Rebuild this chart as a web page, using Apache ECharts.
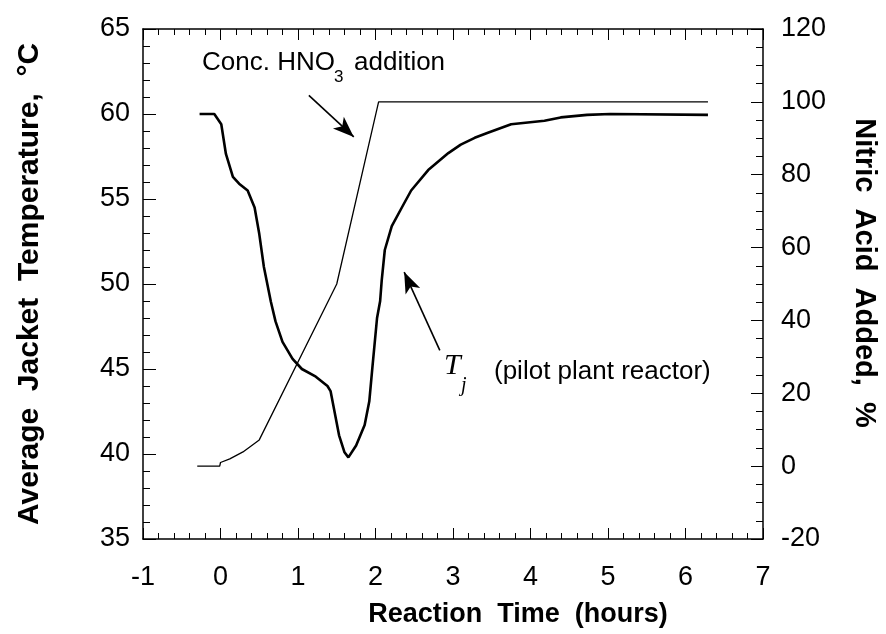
<!DOCTYPE html>
<html><head><meta charset="utf-8">
<script src="https://cdn.jsdelivr.net/npm/echarts@6/dist/echarts.min.js"></script>
<style>html,body{margin:0;padding:0;background:#fff}#c{width:886px;height:634px}</style>
</head><body><div id="c"></div>
<script>
// Reaction time (hours) and average jacket temperature Tj (°C)
const timeTj = [-0.27, -0.08, 0.01, 0.07, 0.16, 0.24, 0.35, 0.44, 0.50, 0.56, 0.65, 0.71, 0.80, 0.93, 1.05, 1.23, 1.38, 1.42, 1.53, 1.60, 1.65, 1.75, 1.86, 1.92, 1.96, 2.02, 2.06, 2.08, 2.12, 2.21, 2.34, 2.46, 2.68, 2.94, 3.10, 3.28, 3.45, 3.75, 4.18, 4.39, 4.73, 5.03, 6.29];
const tempTj = [60.0, 60.0, 59.4, 57.65, 56.3, 55.9, 55.5, 54.5, 52.95, 51.0, 48.96, 47.8, 46.6, 45.6, 45.0, 44.55, 44.0, 43.7, 41.1, 40.1, 39.8, 40.5, 41.7, 43.1, 45.1, 48.0, 49.0, 50.2, 52.0, 53.4, 54.5, 55.5, 56.7, 57.7, 58.2, 58.6, 58.9, 59.4, 59.6, 59.8, 59.95, 60.0, 59.95];
// Nitric acid added (%)
const timeAcid = [-0.30, -0.01, 0.00, 0.12, 0.29, 0.50, 1.50, 2.04, 6.29];
const acidAdded = [0, 0, 1.0, 2.0, 3.9, 7.2, 50.0, 100, 100];
// Axis ticks
const xTicks = [-1, 0, 1, 2, 3, 4, 5, 6, 7];
const leftTicks = [35, 40, 45, 50, 55, 60, 65];
const rightTicks = [-20, 0, 20, 40, 60, 80, 100, 120];
// Annotation arrows [time, temperature]: tail -> head
const arrowHNO3 = [[1.14, 61.1], [1.72, 58.65]];
const arrowTj = [[2.83, 46.1], [2.37, 50.7]];

const FONT = '"Liberation Sans", Arial, Helvetica, sans-serif';
const black = '#000';
const labelStyle = { color: black, fontFamily: FONT, fontSize: 27 };
const lineStyleAxis = { color: black, width: 1.5 };

function xAx(pos, showLabel) {
  return {
    type: 'value', position: pos, min: xTicks[0], max: xTicks[xTicks.length - 1],
    interval: xTicks[1] - xTicks[0],
    axisLine: { show: true, onZero: false, lineStyle: lineStyleAxis },
    axisTick: { show: true, inside: true, length: 11, lineStyle: { color: black, width: 1 } },
    minorTick: { show: true, splitNumber: 5, length: 6, lineStyle: { color: black, width: 1 } },
    splitLine: { show: false },
    axisLabel: { show: showLabel, margin: 25, ...labelStyle },
    name: showLabel ? 'Reaction  Time  (hours)' : '',
    nameLocation: 'middle', nameGap: 62,
    nameTextStyle: { color: black, fontFamily: FONT, fontSize: 27, fontWeight: 'bold', padding: [0, 0, 0, 130] }
  };
}

const chart = echarts.init(document.getElementById('c'), null, { renderer: 'canvas' });
chart.setOption({
  animation: false,
  backgroundColor: '#fff',
  grid: { left: 143, right: 119, top: 29, bottom: 95, containLabel: false },
  xAxis: [xAx('bottom', true), xAx('top', false)],
  yAxis: [
    {
      type: 'value', position: 'left', min: leftTicks[0], max: leftTicks[leftTicks.length - 1],
      interval: leftTicks[1] - leftTicks[0],
      axisLine: { show: true, onZero: false, lineStyle: lineStyleAxis },
      axisTick: { show: true, inside: true, length: 13, lineStyle: { color: black, width: 1 } },
      minorTick: { show: true, splitNumber: 5, length: 7, lineStyle: { color: black, width: 1 } },
      splitLine: { show: false },
      axisLabel: { margin: 13, ...labelStyle },
      name: 'Average  Jacket  Temperature,  °C', nameLocation: 'middle', nameGap: 98,
      nameTextStyle: { color: black, fontFamily: FONT, fontSize: 30, fontWeight: 'bold' }
    },
    {
      type: 'value', position: 'right', min: rightTicks[0], max: rightTicks[rightTicks.length - 1],
      interval: rightTicks[1] - rightTicks[0],
      axisLine: { show: true, onZero: false, lineStyle: lineStyleAxis },
      axisTick: { show: true, inside: true, length: 12, lineStyle: { color: black, width: 1 } },
      minorTick: { show: true, splitNumber: 4, length: 7, lineStyle: { color: black, width: 1 } },
      splitLine: { show: false },
      axisLabel: { margin: 18, ...labelStyle },
      name: 'Nitric  Acid  Added,  %', nameLocation: 'middle', nameGap: 86, nameRotate: -90,
      nameTextStyle: { color: black, fontFamily: FONT, fontSize: 29, fontWeight: 'bold', padding: [0, 22, 0, 0] }
    }
  ],
  series: [
    {
      name: 'Tj', type: 'line', xAxisIndex: 0, yAxisIndex: 0, showSymbol: false, smooth: false,
      data: timeTj.map((t, i) => [t, tempTj[i]]),
      lineStyle: { color: black, width: 2.6 },
      markLine: {
        silent: true, animation: false,
        symbol: ['none', 'arrow'], symbolSize: 20,
        label: { show: false },
        lineStyle: { color: black, width: 1.6, type: 'solid' },
        data: [
          [{ coord: arrowHNO3[0] }, { coord: arrowHNO3[1], symbolSize: [12, 21] }],
          [{ coord: arrowTj[0] }, { coord: arrowTj[1], symbolSize: [12, 21] }]
        ]
      }
    },
    {
      name: 'HNO3', type: 'line', xAxisIndex: 0, yAxisIndex: 1, showSymbol: false, smooth: false,
      data: timeAcid.map((t, i) => [t, acidAdded[i]]),
      lineStyle: { color: black, width: 1.3 }
    }
  ],
  graphic: [
    { type: 'text', x: 202, y: 63, style: { text: 'Conc. HNO', font: '26px ' + FONT, fill: black, align: 'left', verticalAlign: 'middle' } },
    { type: 'text', x: 334, y: 77, style: { text: '3', font: '17px ' + FONT, fill: black, align: 'left', verticalAlign: 'middle' } },
    { type: 'text', x: 354, y: 63, style: { text: 'addition', font: '26px ' + FONT, fill: black, align: 'left', verticalAlign: 'middle' } },
    { type: 'text', x: 444, y: 366, style: { text: 'T', font: 'italic 30px "Liberation Serif", "Times New Roman", serif', fill: black, align: 'left', verticalAlign: 'middle' } },
    { type: 'text', x: 461, y: 386, style: { text: 'j', font: 'italic 20px "Liberation Serif", "Times New Roman", serif', fill: black, align: 'left', verticalAlign: 'middle' } },
    { type: 'text', x: 494, y: 372, style: { text: '(pilot plant reactor)', font: '26px ' + FONT, fill: black, align: 'left', verticalAlign: 'middle' } }
  ]
});
</script>
</body></html>
